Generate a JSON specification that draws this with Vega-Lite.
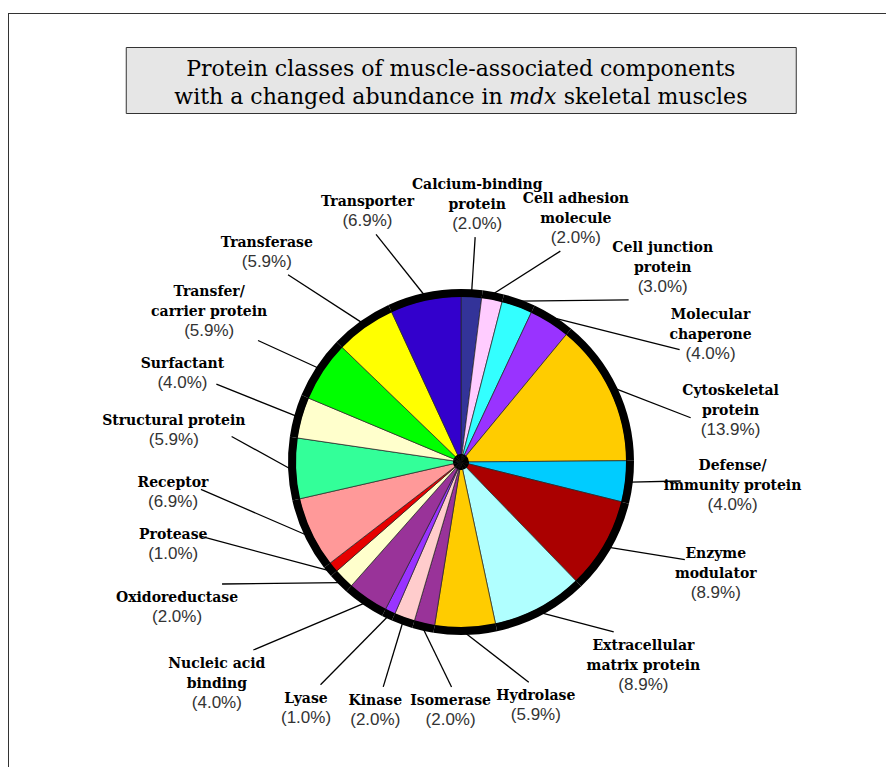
{
  "$schema": "https://vega.github.io/schema/vega-lite/v6.json",
  "padding": {"left": 8, "top": 13, "right": 0, "bottom": 0},
  "background": "white",
  "spacing": 0,
  "config": {"view": {"stroke": null}},
  "hconcat": [
    {
      "width": 1,
      "height": 800,
      "view": {"fill": "#333333", "stroke": null},
      "data": {"values": []},
      "mark": "point",
      "encoding": {}
    },
    {
      "spacing": 32,
      "center": true,
      "vconcat": [
        {
          "width": 904,
          "height": 1,
          "view": {"fill": "#333333", "stroke": null},
          "data": {"values": []},
          "mark": "point",
          "encoding": {}
        },
        {
          "width": 670,
          "height": 66,
          "view": {"fill": "#e6e6e6", "stroke": "#333333", "strokeWidth": 1},
          "data": {"values": [{"l1": "Protein classes of muscle-associated components", "a": "with a changed abundance in", "b": "mdx", "c": "skeletal muscles"}]},
          "layer": [
            {"mark": {"type": "text", "font": "DejaVu Serif", "fontSize": 22, "baseline": "alphabetic", "align": "center", "dy": -4, "color": "#000000"}, "encoding": {"text": {"field": "l1"}}},
            {"mark": {"type": "text", "font": "DejaVu Serif", "fontSize": 22, "baseline": "alphabetic", "align": "right", "dx": 42, "dy": 24, "color": "#000000"}, "encoding": {"text": {"field": "a"}}},
            {"mark": {"type": "text", "font": "DejaVu Serif", "fontSize": 22, "fontStyle": "italic", "baseline": "alphabetic", "align": "center", "dx": 72, "dy": 24, "color": "#000000"}, "encoding": {"text": {"field": "b"}}},
            {"mark": {"type": "text", "font": "DejaVu Serif", "fontSize": 22, "baseline": "alphabetic", "align": "left", "dx": 103, "dy": 24, "color": "#000000"}, "encoding": {"text": {"field": "c"}}}
          ]
        },
        {
          "width": 904,
          "height": 632,
          "data": {"values": [
            {"class": "Calcium-binding protein", "label": "Calcium-binding\nprotein", "pct": 2.0},
            {"class": "Cell adhesion molecule", "label": "Cell adhesion\nmolecule", "pct": 2.0},
            {"class": "Cell junction protein", "label": "Cell junction\nprotein", "pct": 3.0},
            {"class": "Molecular chaperone", "label": "Molecular\nchaperone", "pct": 4.0},
            {"class": "Cytoskeletal protein", "label": "Cytoskeletal\nprotein", "pct": 13.9},
            {"class": "Defense/immunity protein", "label": "Defense/\nimmunity protein", "pct": 4.0},
            {"class": "Enzyme modulator", "label": "Enzyme\nmodulator", "pct": 8.9},
            {"class": "Extracellular matrix protein", "label": "Extracellular\nmatrix protein", "pct": 8.9},
            {"class": "Hydrolase", "label": "Hydrolase", "pct": 5.9},
            {"class": "Isomerase", "label": "Isomerase", "pct": 2.0},
            {"class": "Kinase", "label": "Kinase", "pct": 2.0},
            {"class": "Lyase", "label": "Lyase", "pct": 1.0},
            {"class": "Nucleic acid binding", "label": "Nucleic acid\nbinding", "pct": 4.0},
            {"class": "Oxidoreductase", "label": "Oxidoreductase", "pct": 2.0},
            {"class": "Protease", "label": "Protease", "pct": 1.0},
            {"class": "Receptor", "label": "Receptor", "pct": 6.9},
            {"class": "Structural protein", "label": "Structural protein", "pct": 5.9},
            {"class": "Surfactant", "label": "Surfactant", "pct": 4.0},
            {"class": "Transfer/carrier protein", "label": "Transfer/\ncarrier protein", "pct": 5.9},
            {"class": "Transferase", "label": "Transferase", "pct": 5.9},
            {"class": "Transporter", "label": "Transporter", "pct": 6.9}
          ]},
          "transform": [
            {"window": [{"op": "row_number", "as": "rn"}]},
            {"joinaggregate": [{"op": "sum", "field": "pct", "as": "total"}]},
            {"window": [{"op": "sum", "field": "pct", "as": "cum"}], "sort": [{"field": "rn", "order": "ascending"}], "frame": [null, 0]},
            {"calculate": "(datum.cum - datum.pct / 2) / datum.total * 2 * PI", "as": "midr"},
            {"joinaggregate": [{"op": "min", "field": "midr", "as": "m0"}]},
            {"calculate": "split(datum.label, '\\n')", "as": "lines"},
            {"calculate": "length(datum.lines)", "as": "nl"},
            {"calculate": "max(length(datum.lines[0]), datum.nl > 1 ? length(datum.lines[1]) : 0, 7) * 4.4", "as": "hw"},
            {"calculate": "(datum.nl + 1) * 10", "as": "hh"},
            {"window": [{"op": "lag", "field": "hw", "as": "phw"}, {"op": "lag", "field": "hh", "as": "phh"}, {"op": "lag", "field": "nl", "as": "pnl"}, {"op": "lag", "field": "midr", "as": "pmid"}], "sort": [{"field": "rn", "order": "ascending"}]},
            {"calculate": "(datum.nl > 1 && datum.pnl > 1) ? 0.8 * (datum.hw + datum.phw) : datum.hw + datum.phw + 6", "as": "wneed"},
            {"calculate": "datum.hh + datum.phh + 6", "as": "hneed"},
            {"calculate": "datum.rn == 1 ? datum.midr : (datum.midr + datum.pmid) / 2", "as": "ga"},
            {"calculate": "datum.ga + 0.02", "as": "gp"},
            {"calculate": "datum.ga - 0.02", "as": "gm"},
            {"calculate": "(sin(datum.gp) < 0 && cos(datum.gp) < 0) ? 5 : 2.4", "as": "pp"},
            {"calculate": "(sin(datum.gm) < 0 && cos(datum.gm) < 0) ? 5 : 2.4", "as": "pm"},
            {"calculate": "pow(pow(abs(sin(datum.gp)) / (sin(datum.gp) >= 0 ? 272 : 288), datum.pp) + pow(abs(cos(datum.gp)) / (cos(datum.gp) >= 0 ? 258 : 248), datum.pp), -1 / datum.pp)", "as": "rp"},
            {"calculate": "pow(pow(abs(sin(datum.gm)) / (sin(datum.gm) >= 0 ? 272 : 288), datum.pm) + pow(abs(cos(datum.gm)) / (cos(datum.gm) >= 0 ? 258 : 248), datum.pm), -1 / datum.pm)", "as": "rm"},
            {"calculate": "abs(datum.rp * sin(datum.gp) - datum.rm * sin(datum.gm)) / 0.04", "as": "dxv"},
            {"calculate": "abs(datum.rm * cos(datum.gm) - datum.rp * cos(datum.gp)) / 0.04", "as": "dyv"},
            {"calculate": "datum.rn == 1 ? 0 : min(datum.wneed / max(datum.dxv, 0.01), datum.hneed / max(datum.dyv, 0.01))", "as": "gap"},
            {"window": [{"op": "sum", "field": "gap", "as": "cgap"}], "sort": [{"field": "rn", "order": "ascending"}], "frame": [null, 0]},
            {"joinaggregate": [{"op": "max", "field": "cgap", "as": "ctot"}]},
            {"calculate": "datum.midr - datum.cgap", "as": "slack"},
            {"window": [{"op": "max", "field": "slack", "as": "fslack"}], "sort": [{"field": "rn", "order": "ascending"}], "frame": [null, 0]},
            {"window": [{"op": "min", "field": "slack", "as": "bslack"}], "sort": [{"field": "rn", "order": "ascending"}], "frame": [0, null]},
            {"calculate": "min((datum.cgap + datum.fslack + max(datum.cgap + datum.bslack, datum.cgap + datum.m0)) / 2, datum.m0 + 2 * PI - 0.42 - (datum.ctot - datum.cgap))", "as": "la1"},
            {"window": [{"op": "lag", "field": "la1", "as": "pla1"}], "sort": [{"field": "rn", "order": "ascending"}]},
            {"calculate": "datum.rn == 1 ? datum.la1 : (datum.la1 + datum.pla1) / 2", "as": "hb"},
            {"calculate": "datum.hb + 0.02", "as": "hp"},
            {"calculate": "datum.hb - 0.02", "as": "hm"},
            {"calculate": "(sin(datum.hp) < 0 && cos(datum.hp) < 0) ? 5 : 2.4", "as": "qp"},
            {"calculate": "(sin(datum.hm) < 0 && cos(datum.hm) < 0) ? 5 : 2.4", "as": "qm"},
            {"calculate": "pow(pow(abs(sin(datum.hp)) / (sin(datum.hp) >= 0 ? 272 : 288), datum.qp) + pow(abs(cos(datum.hp)) / (cos(datum.hp) >= 0 ? 258 : 248), datum.qp), -1 / datum.qp)", "as": "rp2"},
            {"calculate": "pow(pow(abs(sin(datum.hm)) / (sin(datum.hm) >= 0 ? 272 : 288), datum.qm) + pow(abs(cos(datum.hm)) / (cos(datum.hm) >= 0 ? 258 : 248), datum.qm), -1 / datum.qm)", "as": "rm2"},
            {"calculate": "abs(datum.rp2 * sin(datum.hp) - datum.rm2 * sin(datum.hm)) / 0.04", "as": "dxv2"},
            {"calculate": "abs(datum.rm2 * cos(datum.hm) - datum.rp2 * cos(datum.hp)) / 0.04", "as": "dyv2"},
            {"calculate": "datum.rn == 1 ? 0 : min(datum.wneed / max(datum.dxv2, 0.01), datum.hneed / max(datum.dyv2, 0.01))", "as": "gap2"},
            {"window": [{"op": "sum", "field": "gap2", "as": "cgap2"}], "sort": [{"field": "rn", "order": "ascending"}], "frame": [null, 0]},
            {"joinaggregate": [{"op": "max", "field": "cgap2", "as": "ctot2"}]},
            {"calculate": "datum.midr - datum.cgap2", "as": "slack2"},
            {"window": [{"op": "max", "field": "slack2", "as": "fslack2"}], "sort": [{"field": "rn", "order": "ascending"}], "frame": [null, 0]},
            {"window": [{"op": "min", "field": "slack2", "as": "bslack2"}], "sort": [{"field": "rn", "order": "ascending"}], "frame": [0, null]},
            {"calculate": "min((datum.cgap2 + datum.fslack2 + max(datum.cgap2 + datum.bslack2, datum.cgap2 + datum.m0)) / 2, datum.m0 + 2 * PI - 0.42 - (datum.ctot2 - datum.cgap2))", "as": "la2"},
            {"calculate": "(datum.la1 + datum.la2) / 2", "as": "la"},
            {"calculate": "(sin(datum.la) < 0 && cos(datum.la) < 0) ? 5 : 2.4", "as": "pl"},
            {"calculate": "pow(pow(abs(sin(datum.la)) / (sin(datum.la) >= 0 ? 272 : 288), datum.pl) + pow(abs(cos(datum.la)) / (cos(datum.la) >= 0 ? 258 : 248), datum.pl), -1 / datum.pl)", "as": "rl"},
            {"calculate": "datum.rl * sin(datum.la)", "as": "cx"},
            {"calculate": "-datum.rl * cos(datum.la)", "as": "cy"},
            {"calculate": "min((0.68 * datum.hw + 4) / max(abs(sin(datum.la)), 0.001), (datum.hh + 3) / max(abs(cos(datum.la)), 0.001))", "as": "tt"},
            {"calculate": "datum.cx - datum.tt * sin(datum.la)", "as": "ax"},
            {"calculate": "datum.cy + datum.tt * cos(datum.la)", "as": "ay"},
            {"calculate": "171 * sin(datum.midr)", "as": "sx"},
            {"calculate": "-171 * cos(datum.midr)", "as": "sy"},
            {"calculate": "datum.cy - datum.hh + 15", "as": "ny"},
            {"calculate": "datum.cy - datum.hh + 20 * datum.nl + 15", "as": "py"},
            {"calculate": "'(' + format(datum.pct, '.1f') + '%)'", "as": "ptxt"}
          ],
          "layer": [
            {
              "mark": {"type": "rule", "color": "#000000", "strokeWidth": 1.3},
              "encoding": {
                "x": {"field": "sx", "type": "quantitative", "scale": {"domain": [-452, 452], "nice": false, "zero": false}, "axis": null},
                "y": {"field": "sy", "type": "quantitative", "scale": {"domain": [-316, 316], "nice": false, "zero": false, "reverse": true}, "axis": null},
                "x2": {"field": "ax"},
                "y2": {"field": "ay"}
              }
            },
            {
              "mark": {"type": "arc", "outerRadius": 166, "stroke": "#222222", "strokeWidth": 0.7},
              "encoding": {
                "theta": {"field": "pct", "type": "quantitative", "stack": true},
                "order": {"field": "rn", "type": "quantitative"},
                "color": {"field": "class", "type": "nominal", "legend": null, "scale": {
                  "domain": ["Calcium-binding protein", "Cell adhesion molecule", "Cell junction protein", "Molecular chaperone", "Cytoskeletal protein", "Defense/immunity protein", "Enzyme modulator", "Extracellular matrix protein", "Hydrolase", "Isomerase", "Kinase", "Lyase", "Nucleic acid binding", "Oxidoreductase", "Protease", "Receptor", "Structural protein", "Surfactant", "Transfer/carrier protein", "Transferase", "Transporter"],
                  "range": ["#333399", "#FFCCFF", "#33FFFF", "#9933FF", "#FFCC00", "#00CCFF", "#AA0000", "#B0FFFF", "#FFCC00", "#993399", "#FFCCCC", "#9933FF", "#993399", "#FFFFCC", "#E60000", "#FF9999", "#33FF99", "#FFFFCC", "#00FF00", "#FFFF00", "#3300CC"]
                }}
              }
            },
            {
              "mark": {"type": "arc", "outerRadius": 173, "innerRadius": 165, "color": "#000000"},
              "encoding": {
                "theta": {"field": "pct", "type": "quantitative", "stack": true},
                "order": {"field": "rn", "type": "quantitative"}
              }
            },
            {
              "mark": {"type": "arc", "outerRadius": 8, "color": "#000000"},
              "encoding": {
                "theta": {"field": "pct", "type": "quantitative", "stack": true},
                "order": {"field": "rn", "type": "quantitative"}
              }
            },
            {
              "mark": {"type": "text", "font": "DejaVu Serif", "fontWeight": "bold", "fontSize": 14, "lineBreak": "\n", "lineHeight": 20, "align": "center", "baseline": "alphabetic", "color": "#000000"},
              "encoding": {
                "x": {"field": "cx", "type": "quantitative", "scale": {"domain": [-452, 452], "nice": false, "zero": false}, "axis": null},
                "y": {"field": "ny", "type": "quantitative", "scale": {"domain": [-316, 316], "nice": false, "zero": false, "reverse": true}, "axis": null},
                "text": {"field": "label"}
              }
            },
            {
              "mark": {"type": "text", "font": "Liberation Sans", "fontSize": 17, "align": "center", "baseline": "alphabetic", "color": "#333333"},
              "encoding": {
                "x": {"field": "cx", "type": "quantitative", "scale": {"domain": [-452, 452], "nice": false, "zero": false}, "axis": null},
                "y": {"field": "py", "type": "quantitative", "scale": {"domain": [-316, 316], "nice": false, "zero": false, "reverse": true}, "axis": null},
                "text": {"field": "ptxt"}
              }
            }
          ]
        }
      ]
    }
  ]
}
